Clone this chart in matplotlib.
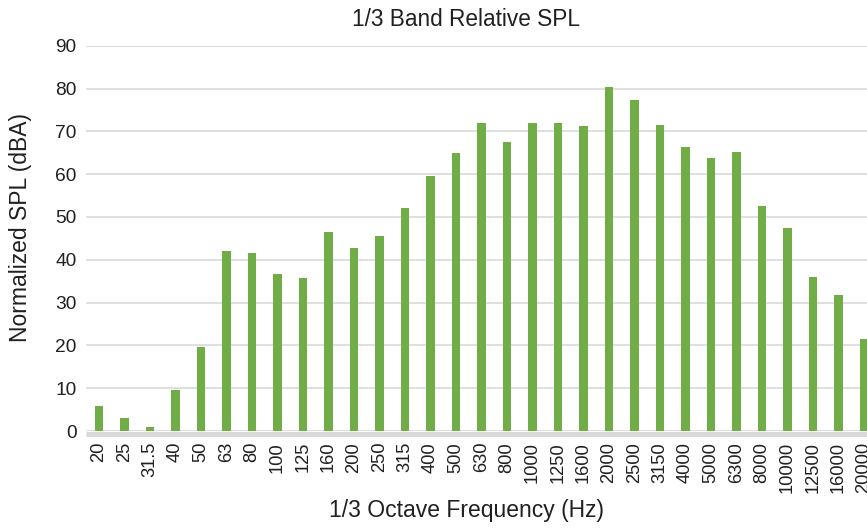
import matplotlib
matplotlib.use("Agg")
import matplotlib.pyplot as plt
import numpy as np

plt.rcParams['font.family'] = ['Liberation Sans', 'DejaVu Sans']

freqs = ["20", "25", "31.5", "40", "50", "63", "80", "100", "125", "160",
         "200", "250", "315", "400", "500", "630", "800", "1000", "1250", "1600",
         "2000", "2500", "3150", "4000", "5000", "6300", "8000", "10000", "12500",
         "16000", "20000"]
spl = [5.9, 3.0, 1.0, 9.5, 19.7, 42.0, 41.6, 36.7, 35.7, 46.5,
       42.8, 45.5, 52.2, 59.6, 64.9, 71.9, 67.6, 71.9, 71.9, 71.2,
       80.3, 77.3, 71.5, 66.4, 63.7, 65.2, 52.5, 47.4, 36.0,
       31.8, 21.6]

W, H = 867, 529
fig = plt.figure(figsize=(W / 100, H / 100), dpi=100)
left_px, right_px = 86.3, 876.8
top_px, bot_px = 45.7, 431
ax = fig.add_axes([left_px / W, 1 - bot_px / H, (right_px - left_px) / W, (bot_px - top_px) / H])

x = np.arange(len(freqs))
ax.bar(x, spl, width=0.34, color='#70AD47', zorder=3)
ax.set_xlim(-0.5, len(freqs) - 0.5)
ax.set_ylim(0, 90)
ax.set_yticks(np.arange(0, 91, 10))
ax.yaxis.grid(True, color='#D9D9D9', linewidth=1.2, zorder=0)
ax.set_axisbelow(True)
for s in ['top', 'right', 'left']:
    ax.spines[s].set_visible(False)
ax.spines['bottom'].set_color('#D9D9D9')
ax.spines['bottom'].set_linewidth(3.7)
ax.spines['bottom'].set_position(('outward', 1.9))
ax.spines['bottom'].set_capstyle('butt')
ax.set_xticks(x)
ax.set_xticklabels(freqs, rotation=90, fontsize=13.2, color='#202020')
ax.tick_params(axis='x', length=0, pad=6)
ax.tick_params(axis='y', length=0, pad=7, labelsize=13.8, labelcolor='#202020')

fig.text(466 / W, 1 - 19 / H, "1/3 Band Relative SPL", ha='center', va='center',
         fontsize=16.3, color='#202020')
fig.text(466.5 / W, 1 - 511 / H, "1/3 Octave Frequency (Hz)", ha='center', va='center',
         fontsize=16.5, color='#202020')
fig.text(21 / W, 1 - 227 / H, "Normalized SPL (dBA)", ha='center', va='center',
         rotation=90, fontsize=16.5, color='#202020')

fig.savefig("out.png", dpi=100)
